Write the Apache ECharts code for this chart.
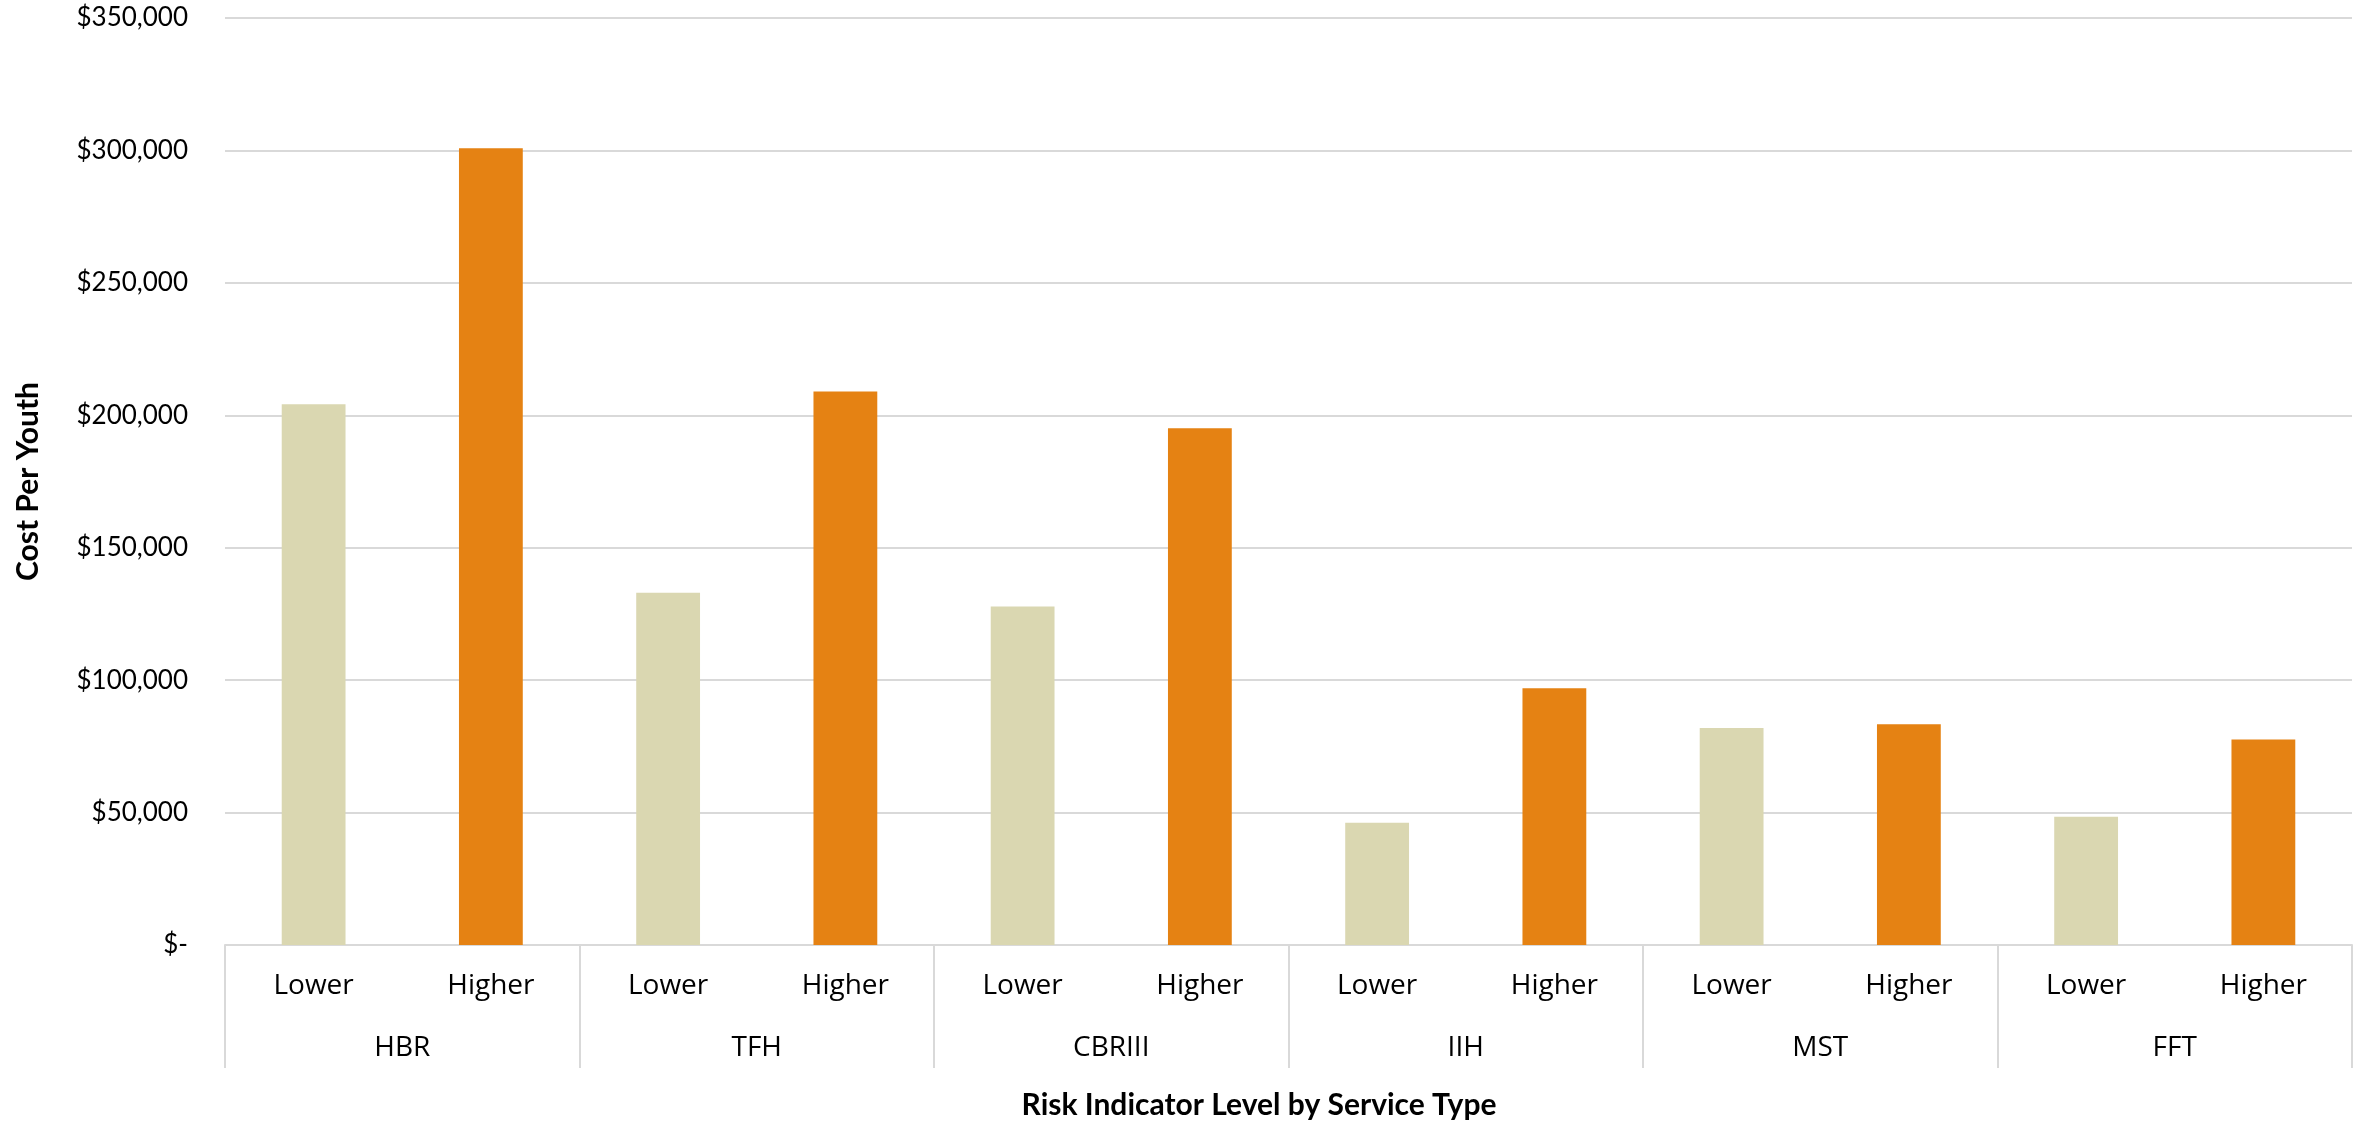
<!DOCTYPE html>
<html>
<head>
<meta charset="utf-8">
<title>Cost Per Youth by Risk Indicator Level and Service Type</title>
<script src="https://cdn.jsdelivr.net/npm/echarts@6/dist/echarts.min.js"></script>
<style>
  html, body { margin: 0; padding: 0; background: #ffffff; }
  #chart { width: 2359px; height: 1124px; }
</style>
</head>
<body>
<div id="chart"></div>
<script>
// Service types (outer category row) and risk levels (inner row)
const serviceTypes = ['HBR', 'TFH', 'CBRIII', 'IIH', 'MST', 'FFT'];
const riskLevels = ['Lower', 'Higher'];

// Cost per youth, in dollars, for each service type
const lowerCost  = [204200, 133000, 127800, 46200, 81900, 48400];
const higherCost = [300800, 209000, 195100, 96900, 83300, 77600];

// Value axis ticks
const yMin = 0;
const yMax = 350000;
const yStep = 50000;

const levelColors = { Lower: '#DAD7B1', Higher: '#E58213' };

// Flatten into the 12 inner categories: Lower/Higher for each service type
const innerCategories = [];
const barData = [];
serviceTypes.forEach((svc, i) => {
  const values = { Lower: lowerCost[i], Higher: higherCost[i] };
  riskLevels.forEach(level => {
    innerCategories.push(level);
    barData.push({ value: values[level], itemStyle: { color: levelColors[level] } });
  });
});

function money(v) {
  if (v === 0) return '$-';
  return '$' + v.toLocaleString('en-US');
}

const gridColor = '#D9D9D9';

const chart = echarts.init(document.getElementById('chart'), null, { renderer: 'canvas' });
chart.setOption({
  backgroundColor: '#ffffff',
  animation: false,
  grid: { left: 225, right: 7, top: 18, bottom: 179, containLabel: false, outerBoundsMode: 'none' },
  title: [
    {
      text: 'Risk Indicator Level by Service Type',
      left: 1254, top: 1085, textAlign: 'center',
      textStyle: { fontFamily: 'Lato', fontWeight: 'bold', fontSize: 30, color: '#000000' }
    }
  ],
  xAxis: [
    {
      type: 'category',
      data: innerCategories,
      position: 'bottom',
      axisLine: { show: true, lineStyle: { color: gridColor, width: 2 } },
      axisTick: { show: false },
      axisLabel: {
        interval: 0, margin: 27,
        fontFamily: 'Open Sans', fontSize: 28, color: '#000000'
      },
      splitLine: { show: false }
    },
    {
      type: 'category',
      data: serviceTypes,
      position: 'bottom',
      axisLine: { show: false },
      axisTick: { show: true, length: 123, interval: 0, lineStyle: { color: gridColor, width: 2 } },
      axisLabel: {
        interval: 0, margin: 89,
        fontFamily: 'Open Sans', fontSize: 28, color: '#000000'
      },
      splitLine: { show: false }
    }
  ],
  yAxis: {
    type: 'value',
    min: yMin, max: yMax, interval: yStep,
    name: 'Cost Per Youth',
    nameLocation: 'middle',
    nameGap: 182,
    nameRotate: 90,
    nameTextStyle: { fontFamily: 'Lato', fontWeight: 'bold', fontSize: 30, color: '#000000' },
    axisLine: { show: false },
    axisTick: { show: false },
    axisLabel: {
      margin: 37,
      fontFamily: 'Lato', fontSize: 26, color: '#000000',
      formatter: money
    },
    splitLine: { show: true, lineStyle: { color: gridColor, width: 2 } }
  },
  series: [
    {
      type: 'bar',
      xAxisIndex: 0,
      barWidth: '36%',
      data: barData
    }
  ]
});
</script>
</body>
</html>
